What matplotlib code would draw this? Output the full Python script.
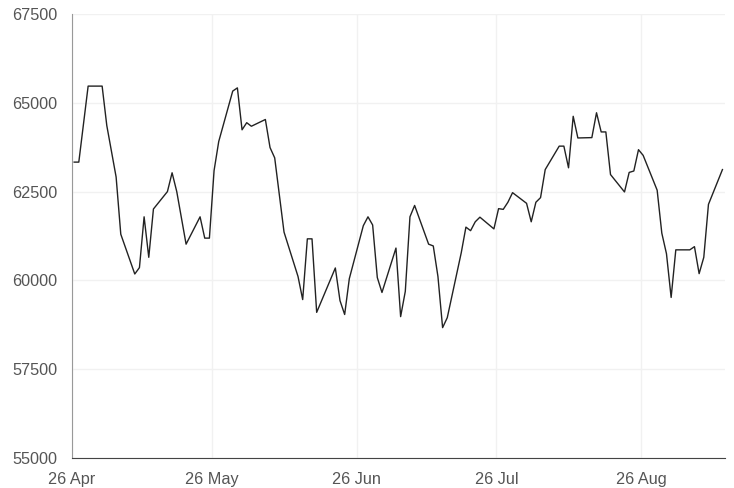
'''Daily close line chart, Apr - Sep 2022'''
import matplotlib
matplotlib.use("Agg")
import matplotlib.pyplot as plt
import matplotlib.dates as mdates
import pandas as pd

dates = [
    "2022-04-26", "2022-04-27", "2022-04-29", "2022-05-02", "2022-05-03",
    "2022-05-05", "2022-05-06", "2022-05-09", "2022-05-10", "2022-05-11",
    "2022-05-12", "2022-05-13", "2022-05-16", "2022-05-17", "2022-05-18",
    "2022-05-20", "2022-05-23", "2022-05-24", "2022-05-25", "2022-05-26",
    "2022-05-27", "2022-05-30", "2022-05-31", "2022-06-01", "2022-06-02",
    "2022-06-03", "2022-06-06", "2022-06-07", "2022-06-08", "2022-06-10",
    "2022-06-13", "2022-06-14", "2022-06-15", "2022-06-16", "2022-06-17",
    "2022-06-21", "2022-06-22", "2022-06-23", "2022-06-24", "2022-06-27",
    "2022-06-28", "2022-06-29", "2022-06-30", "2022-07-01", "2022-07-04",
    "2022-07-05", "2022-07-06", "2022-07-07", "2022-07-08", "2022-07-11",
    "2022-07-12", "2022-07-13", "2022-07-14", "2022-07-15", "2022-07-18",
    "2022-07-19", "2022-07-20", "2022-07-21", "2022-07-22", "2022-07-25",
    "2022-07-26", "2022-07-27", "2022-07-28", "2022-07-29", "2022-08-01",
    "2022-08-02", "2022-08-03", "2022-08-04", "2022-08-05", "2022-08-08",
    "2022-08-09", "2022-08-10", "2022-08-11", "2022-08-12", "2022-08-15",
    "2022-08-16", "2022-08-17", "2022-08-18", "2022-08-19", "2022-08-22",
    "2022-08-23", "2022-08-24", "2022-08-25", "2022-08-26", "2022-08-29",
    "2022-08-30", "2022-08-31", "2022-09-01", "2022-09-02", "2022-09-05",
    "2022-09-06", "2022-09-07", "2022-09-08", "2022-09-09", "2022-09-12",
]

values = [
    63330, 63330, 65470, 65470, 64360,
    62910, 61300, 60180, 60360, 61790,
    60650, 62010, 62500, 63030, 62500,
    61020, 61790, 61190, 61190, 63090,
    63910, 65330, 65420, 64240, 64440,
    64340, 64530, 63740, 63450, 61360,
    60110, 59460, 61170, 61170, 59100,
    60350, 59430, 59040, 60050, 61540,
    61790, 61560, 60080, 59660, 60910,
    58980, 59690, 61790, 62110, 61020,
    60970, 60110, 58670, 58950, 60780,
    61500, 61400, 61650, 61780, 61450,
    62020, 62000, 62200, 62470, 62170,
    61650, 62200, 62330, 63120, 63780,
    63780, 63170, 64620, 64010, 64020,
    64720, 64180, 64180, 62980, 62490,
    63040, 63080, 63680, 63520, 62540,
    61330, 60750, 59520, 60860, 60860,
    60950, 60190, 60650, 62140, 63120,
]

tick_dates = ["2022-04-26", "2022-05-26", "2022-06-26", "2022-07-26", "2022-08-26"]
y_ticks = [55000, 57500, 60000, 62500, 65000, 67500]


def main():
    ''' Main function for module'''
    plt.rcParams['font.family'] = ['Liberation Sans', 'DejaVu Sans']

    fig = plt.figure(figsize=(7.34, 4.88), dpi=100)
    ax = fig.add_axes([0.0981, 0.0615, 0.8896, 0.9098])

    # points sit about half a day after midnight
    x = pd.to_datetime(dates) + pd.Timedelta(hours=11)
    ax.plot(x, values, color='#222222', linewidth=1.0)

    ax.set_xlim(pd.Timestamp("2022-04-26"), pd.Timestamp("2022-09-13"))
    ax.set_ylim(55000, 67500)
    ax.set_xticks(pd.to_datetime(tick_dates))
    ax.xaxis.set_major_formatter(mdates.DateFormatter("%d %b"))
    ax.set_yticks(y_ticks)

    ax.grid(True, color='#f1f1f1', linewidth=1.0)
    ax.set_axisbelow(True)
    for side in ('top', 'right'):
        ax.spines[side].set_visible(False)
    ax.spines['left'].set_color('#999999')
    ax.spines['bottom'].set_color('#444444')
    ax.tick_params(axis='both', length=0, labelsize=11.7, labelcolor='#555555')
    ax.tick_params(axis='x', pad=10)
    ax.tick_params(axis='y', pad=10.5)

    fig.savefig("out.png", dpi=100)


if __name__ == "__main__":
    main()
